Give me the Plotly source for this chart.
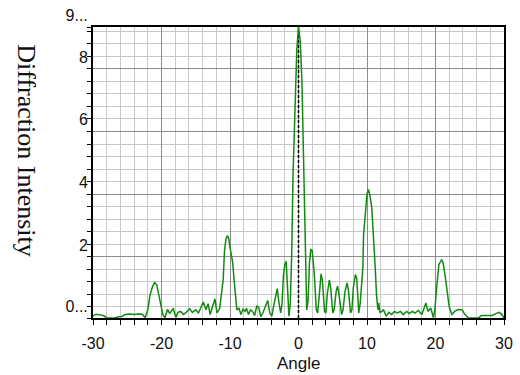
import plotly.graph_objects as go

# Angle (degrees) and diffraction intensity
angle = [-30.0, -29.6, -29.0, -28.5, -28.0, -27.5, -26.8, -26.4, -25.8, -25.3, -24.6, -24.0, -23.4, -22.8,
         -22.4, -22.0, -21.7, -21.3, -21.0, -20.7, -20.4, -20.1, -19.8, -19.5, -19.1, -18.8, -18.3, -17.9,
         -17.6, -17.2, -16.8, -16.4, -15.9, -15.5, -15.0, -14.6, -14.2, -13.9, -13.5, -13.2, -12.9, -12.5,
         -12.2, -11.9, -11.5, -11.2, -11.0, -10.8, -10.6, -10.4, -10.2, -10.0, -9.8, -9.6, -9.4, -9.2,
         -9.0, -8.7, -8.4, -8.1, -7.8, -7.6, -7.3, -7.0, -6.7, -6.4, -6.1, -5.8, -5.5, -5.2, -4.8, -4.5,
         -4.2, -3.9, -3.6, -3.3, -3.1, -2.9, -2.6, -2.4, -2.2, -2.0, -1.8, -1.6, -1.4, -1.2, -1.0, -0.8,
         -0.5, -0.25, 0.0, 0.25, 0.5, 0.75, 1.0, 1.2, 1.4, 1.6, 1.8, 2.0, 2.3, 2.6, 2.8, 3.0, 3.3, 3.5,
         3.8, 4.0, 4.2, 4.5, 4.7, 5.0, 5.2, 5.5, 5.7, 5.9, 6.3, 6.5, 6.8, 7.1, 7.3, 7.6, 7.8, 8.0, 8.3,
         8.5, 8.8, 9.0, 9.2, 9.4, 9.5, 9.8, 10.0, 10.2, 10.4, 10.7, 11.0, 11.2, 11.4, 11.6, 11.7, 11.9,
         12.2, 12.4, 12.8, 13.2, 13.6, 14.0, 14.4, 14.9, 15.3, 15.8, 16.2, 16.6, 17.0, 17.5, 18.0, 18.6,
         18.9, 19.3, 19.7, 19.9, 20.2, 20.5, 20.9, 21.1, 21.4, 21.7, 22.0, 22.4, 22.8, 23.3, 23.9, 24.3,
         24.8, 25.5, 26.3, 26.7, 27.5, 28.3, 28.8, 29.3, 29.7, 30.0]
intensity = [0.10, 0.16, 0.14, 0.12, 0.05, 0.04, 0.04, 0.07, 0.09, 0.15, 0.17, 0.15, 0.17, 0.16,
             0.05, 0.30, 0.75, 1.05, 1.17, 1.10, 0.80, 0.45, 0.15, 0.05, 0.32, 0.18, 0.35, 0.06,
             0.22, 0.25, 0.15, 0.22, 0.34, 0.22, 0.30, 0.20, 0.42, 0.55, 0.30, 0.50, 0.15, 0.42,
             0.65, 0.20, 0.35, 0.90, 1.25, 2.20, 2.55, 2.67, 2.60, 2.30, 2.00, 1.80, 1.25, 0.65,
             0.30, 0.35, 0.15, 0.32, 0.25, 0.35, 0.15, 0.30, 0.25, 0.12, 0.42, 0.38, 0.08, 0.20, 0.45, 0.60,
             0.20, 0.10, 0.45, 0.75, 0.98, 0.60, 0.20, 0.50, 1.40, 1.75, 1.85, 1.00, 0.10, 0.50, 2.00, 4.60,
             7.10, 8.60, 9.34, 8.90, 7.60, 5.20, 2.40, 0.30, 0.60, 1.80, 2.23, 2.20, 1.45, 0.30, 0.20, 0.80, 1.45, 1.20,
             0.25, 0.20, 0.80, 1.25, 1.00, 0.20, 0.30, 0.90, 1.06, 0.80, 0.15, 0.30, 0.90, 1.16, 0.90, 0.20, 0.30, 1.00, 1.43,
             1.30, 0.20, 0.50, 1.00, 1.65, 2.70, 3.62, 4.00, 4.15, 4.00, 3.56, 2.56, 1.64, 0.74, 0.30, 0.52, 0.22,
             0.25, 0.31, 0.10, 0.22, 0.15, 0.25, 0.20, 0.25, 0.15, 0.25, 0.18, 0.25, 0.20, 0.28, 0.15, 0.52,
             0.25, 0.36, 0.05, 0.30, 1.10, 1.75, 1.91, 1.80, 1.40, 0.80, 0.40, 0.15, 0.25, 0.31, 0.30, 0.15,
             0.05, 0.04, 0.05, 0.12, 0.13, 0.12, 0.18, 0.22, 0.15, 0.04]

x_ticks = [-30, -20, -10, 0, 10, 20, 30]
x_tick_text = ["-30", "-20", "-10", "0", "10", "20", "30"]
y_min = min(intensity)
y_max = max(intensity)
y_ticks = [y_min, 2, 4, 6, 8, y_max]
y_tick_text = ["0...", "2", "4", "6", "8", "9..."]

tick_font = dict(family="Liberation Sans, Arial, sans-serif", size=16, color="#111111")

fig = go.Figure()
fig.add_trace(go.Scatter(x=angle, y=intensity, mode="lines",
                         line=dict(color="#128a12", width=1.5), hoverinfo="skip"))

fig.add_shape(type="line", xref="x", yref="y", x0=0, x1=0, y0=y_min, y1=y_max,
              line=dict(color="black", width=1.5, dash="3px,2px"), layer="between")

fig.update_xaxes(range=[-30, 30], tickvals=x_ticks, ticktext=x_tick_text,
                 showgrid=True, gridcolor="#8c8c8c", gridwidth=1,
                 zeroline=False, showline=True, linecolor="black", linewidth=2, mirror=True,
                 ticks="outside", ticklen=5, tickcolor="black", tickwidth=1,
                 ticklabelstandoff=5, tickfont=tick_font,
                 minor=dict(dtick=2, tick0=0, ticks="outside", ticklen=5, tickcolor="black",
                            showgrid=True, gridcolor="#c8c8c8", gridwidth=1))
fig.update_yaxes(range=[y_min, y_max], tickvals=y_ticks, ticktext=y_tick_text,
                 showgrid=True, gridcolor="#8c8c8c", gridwidth=1,
                 zeroline=False, showline=True, linecolor="black", linewidth=2, mirror=True,
                 ticks="outside", ticklen=4, tickcolor="black", tickwidth=1,
                 ticklabelposition="outside top", tickfont=tick_font,
                 minor=dict(dtick=0.4, tick0=0, ticks="outside", ticklen=4, tickcolor="black",
                            showgrid=True, gridcolor="#c8c8c8", gridwidth=1))

fig.add_annotation(text="Angle", xref="paper", yref="paper", x=0.5, y=-0.1575,
                   xanchor="center", yanchor="middle", showarrow=False,
                   font=dict(family="Liberation Sans, Arial, sans-serif", size=17, color="#111111"))
fig.add_annotation(text="Diffraction Intensity", xref="paper", yref="paper", x=-0.162, y=0.575,
                   xanchor="center", yanchor="middle", showarrow=False, textangle=90,
                   font=dict(family="Liberation Serif, Times New Roman, serif", size=26, color="#111111"))

fig.update_layout(width=520, height=375, margin=dict(l=93, r=7, t=26, b=57),
                  paper_bgcolor="white", plot_bgcolor="white", showlegend=False)

fig.write_html("out.html")
